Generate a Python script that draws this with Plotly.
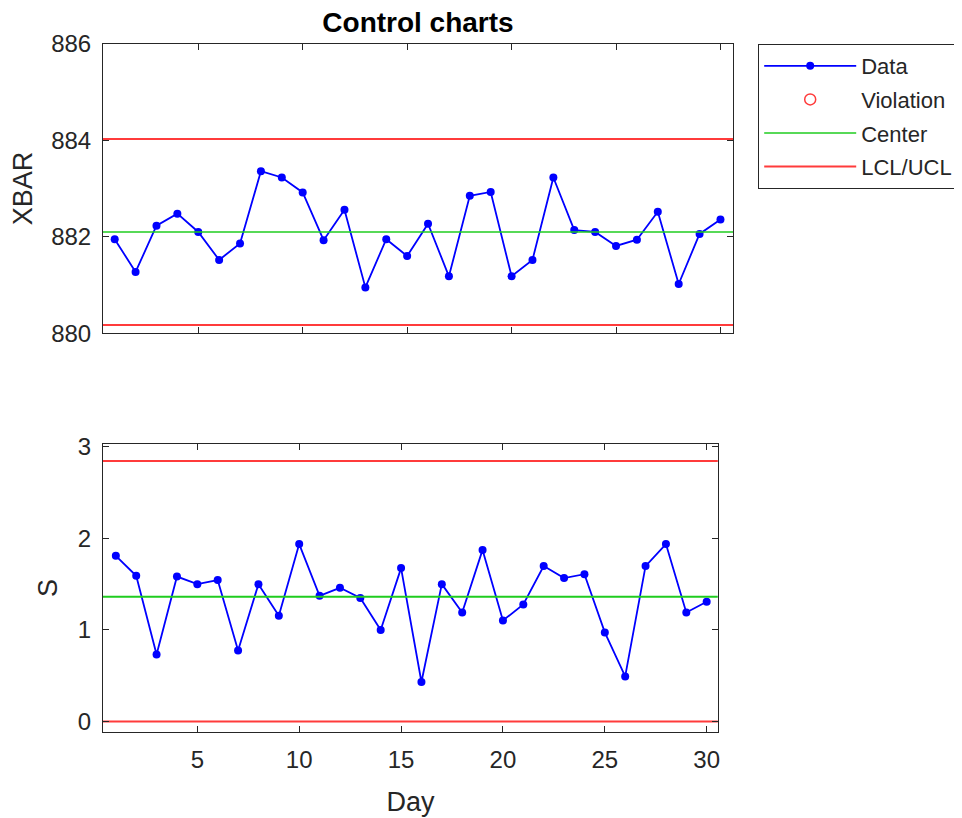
import plotly.graph_objects as go
from plotly.subplots import make_subplots

days = list(range(1, 31))
xbar = [881.95, 881.27, 882.23, 882.48, 882.10, 881.52, 881.86, 883.36, 883.23, 882.92,
        881.93, 882.56, 880.95, 881.95, 881.60, 882.27, 881.18, 882.85, 882.93, 881.18,
        881.52, 883.23, 882.14, 882.10, 881.81, 881.94, 882.52, 881.02, 882.06, 882.36]
s_vals = [1.807, 1.589, 0.731, 1.581, 1.498, 1.542, 0.774, 1.498, 1.153, 1.935,
          1.371, 1.458, 1.346, 0.997, 1.673, 0.430, 1.498, 1.189, 1.872, 1.101,
          1.276, 1.695, 1.564, 1.607, 0.971, 0.491, 1.695, 1.935, 1.189, 1.305]
xbar_center, xbar_lcl, xbar_ucl = 882.10, 880.17, 884.03
s_center, s_lcl, s_ucl = 1.36, 0.0, 2.843

x_ticks = [5, 10, 15, 20, 25, 30]
xbar_ticks = [880, 882, 884, 886]
s_ticks = [0, 1, 2, 3]

top_xrange = [0.44, 30.6]
bot_xrange = [0.37, 30.55]

FONT = "Liberation Sans, Arial, sans-serif"
DARK = "#262626"
BLUE = "#0000ff"
RED = "#ff3b3b"
GREEN = "#1fcc1f"

fig = make_subplots(rows=2, cols=1)

def hlines(xr, lo, hi):
    return [xr[0], xr[1], None, xr[0], xr[1]], [hi, hi, None, lo, lo]

# ---- top XBAR chart
fig.add_trace(go.Scatter(x=days, y=xbar, mode="lines+markers", name="Data",
                         legendgroup="a",
                         line=dict(color=BLUE, width=1.8),
                         marker=dict(color=BLUE, size=8)), row=1, col=1)
fig.add_trace(go.Scatter(x=[None], y=[None], mode="markers", name="Violation",
                         legendgroup="b",
                         marker=dict(symbol="circle-open", color=RED, size=11,
                                     line=dict(width=1.5))), row=1, col=1)
fig.add_trace(go.Scatter(x=top_xrange, y=[xbar_center, xbar_center], mode="lines",
                         name="Center", legendgroup="c",
                         line=dict(color=GREEN, width=1.5)), row=1, col=1)
hx, hy = hlines(top_xrange, xbar_lcl, xbar_ucl)
fig.add_trace(go.Scatter(x=hx, y=hy, mode="lines", name="LCL/UCL", legendgroup="d",
                         line=dict(color=RED, width=2)), row=1, col=1)

# ---- bottom S chart
fig.add_trace(go.Scatter(x=days, y=s_vals, mode="lines+markers", showlegend=False,
                         line=dict(color=BLUE, width=1.8),
                         marker=dict(color=BLUE, size=8)), row=2, col=1)
fig.add_trace(go.Scatter(x=bot_xrange, y=[s_center, s_center], mode="lines",
                         showlegend=False, line=dict(color=GREEN, width=2)), row=2, col=1)
hx2, hy2 = hlines(bot_xrange, s_lcl, s_ucl)
fig.add_trace(go.Scatter(x=hx2, y=hy2, mode="lines", showlegend=False,
                         line=dict(color=RED, width=2)), row=2, col=1)

axis_common = dict(showline=True, linecolor=DARK, linewidth=1, mirror="ticks",
                   ticks="inside", ticklen=6, tickcolor=DARK, showgrid=False,
                   zeroline=False, automargin=False,
                   tickfont=dict(family=FONT, size=24, color=DARK))

fig.update_xaxes(**axis_common)
fig.update_yaxes(**axis_common)

fig.update_xaxes(row=1, col=1, domain=[0, 1], range=top_xrange, tickvals=x_ticks,
                 showticklabels=False)
fig.update_xaxes(row=2, col=1, domain=[0, 0.976], range=bot_xrange, tickvals=x_ticks,
                 ticklabelstandoff=6,
                 title=dict(text="Day", font=dict(family=FONT, size=27, color=DARK),
                            standoff=20))
fig.update_yaxes(row=1, col=1, domain=[0.5797, 1], range=[880, 886], tickvals=xbar_ticks,
                 ticklabelstandoff=6,
                 title=dict(text="XBAR", font=dict(family=FONT, size=27, color=DARK),
                            standoff=12))
fig.update_yaxes(row=2, col=1, domain=[0, 0.4189], range=[-0.116, 3.03], tickvals=s_ticks,
                 ticklabelstandoff=6,
                 title=dict(text="S", font=dict(family=FONT, size=27, color=DARK),
                            standoff=12))

fig.update_layout(
    width=962, height=818,
    margin=dict(l=95, r=237, t=36, b=94),
    plot_bgcolor="white", paper_bgcolor="white",
    title=dict(text="<b>Control charts</b>", x=0.5, xref="paper", xanchor="center",
               y=1 - 4 / 818, yanchor="top",
               font=dict(family=FONT, size=28, color="black")),
    legend=dict(x=1.04, y=1, xanchor="left", yanchor="top", xref="paper", yref="paper",
                bordercolor=DARK, borderwidth=1, bgcolor="white",
                font=dict(family=FONT, size=22, color=DARK),
                traceorder="grouped", tracegroupgap=2, itemwidth=92),
    showlegend=True,
)

fig.write_html("out.html")
